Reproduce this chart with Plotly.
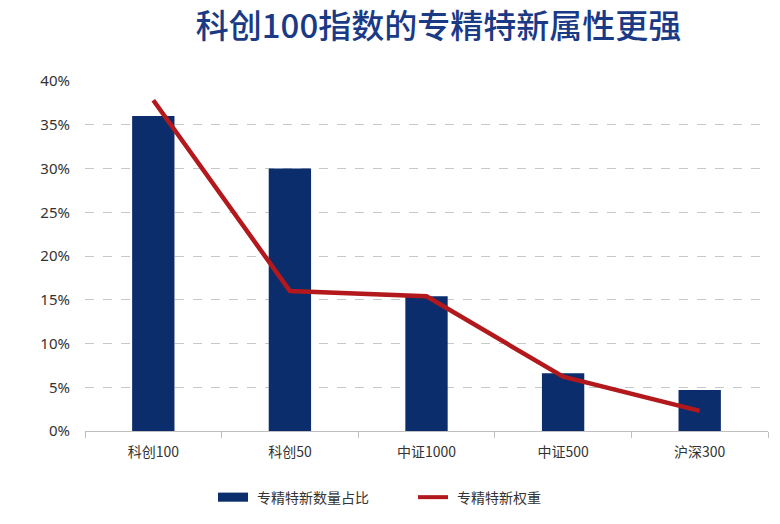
import plotly.graph_objects as go

categories = ["科创100", "科创50", "中证1000", "中证500", "沪深300"]
count_share = [0.36, 0.30, 0.154, 0.066, 0.047]
weight_share = [0.378, 0.160, 0.154, 0.062, 0.023]
y_ticks = [0, 0.05, 0.10, 0.15, 0.20, 0.25, 0.30, 0.35, 0.40]
y_tick_text = ["0%", "5%", "10%", "15%", "20%", "25%", "30%", "35%", "40%"]
series_names = ["专精特新数量占比", "专精特新权重"]

bar_color = "#0c2d6b"
line_color = "#b3181c"
font_family = "Noto Sans CJK SC, Noto Sans, sans-serif"

fig = go.Figure()
fig.add_trace(go.Bar(
    x=categories, y=count_share, name=series_names[0],
    marker=dict(color=bar_color, line=dict(width=0)), width=0.31,
    showlegend=False,
))
fig.add_trace(go.Scatter(
    x=categories, y=weight_share, name=series_names[1],
    mode="lines", line=dict(color=line_color, width=4.5),
    showlegend=False,
))

# custom legend (wide swatches like the reference)
ly = -0.189
fig.add_shape(type="rect", xref="paper", yref="paper",
              x0=0.1947, x1=0.2387, y0=ly - 0.013, y1=ly + 0.013,
              fillcolor=bar_color, line=dict(width=0))
fig.add_shape(type="line", xref="paper", yref="paper",
              x0=0.4876, x1=0.5315, y0=ly, y1=ly,
              line=dict(color=line_color, width=4))
fig.add_annotation(xref="paper", yref="paper", x=0.2489, y=ly,
                   xanchor="left", yanchor="middle", showarrow=False,
                   text=series_names[0], font=dict(size=14, color="#333333"))
fig.add_annotation(xref="paper", yref="paper", x=0.5417, y=ly,
                   xanchor="left", yanchor="middle", showarrow=False,
                   text=series_names[1], font=dict(size=14, color="#333333"))

fig.update_layout(
    width=772, height=516,
    margin=dict(l=77, r=12, t=73, b=93),
    paper_bgcolor="white", plot_bgcolor="white",
    font=dict(family=font_family, color="#333333", size=14),
    title=dict(
        text="科创100指数的专精特新属性更强",
        x=0.5577, xanchor="center", y=0.964, yanchor="middle",
        font=dict(size=33, color="#1a3a86", family=font_family, weight=500),
    ),
    showlegend=False,
    bargap=0.69,
)
fig.update_yaxes(
    range=[0, 0.4], tickvals=y_ticks, ticktext=y_tick_text,
    showgrid=True, gridcolor="#c8c8c8", griddash="dash", gridwidth=1,
    zeroline=False, showline=False, ticks="", ticklabelstandoff=14,
    tickfont=dict(size=15, color="#333333", family="Noto Sans, sans-serif"),
    automargin=False,
)
fig.update_xaxes(
    showline=True, linecolor="#bfbfbf", linewidth=1,
    ticks="outside", tickson="boundaries", ticklen=6, tickcolor="#bfbfbf",
    ticklabelstandoff=8,
    showgrid=False, tickfont=dict(size=14, color="#333333"),
    automargin=False,
)

fig.write_html("out.html")
